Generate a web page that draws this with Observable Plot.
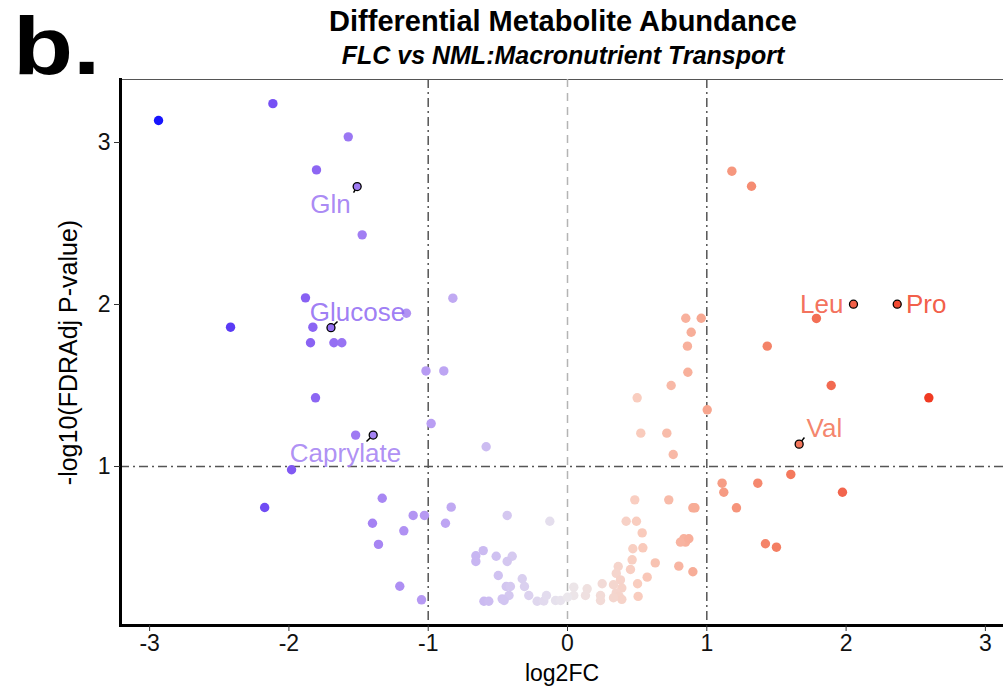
<!DOCTYPE html>
<html>
<head>
<meta charset="utf-8">
<script src="https://cdn.jsdelivr.net/npm/d3@7"></script>
<script src="https://cdn.jsdelivr.net/npm/@observablehq/plot@0.6"></script>
<style>
  body { margin: 0; background: #fff; }
  #wrap { position: relative; width: 1003px; height: 694px; font-family: "Liberation Sans", Arial, sans-serif; }
  #wrap svg { position: absolute; left: 0; top: 0; }
  .t { position: absolute; left: 0; width: 1126px; text-align: center; color: #000; white-space: nowrap; z-index: 2; }
  #title { top: 5px; font-weight: bold; font-size: 29px; line-height: 32px; }
  #subtitle { top: 40px; font-weight: bold; font-style: italic; font-size: 25px; line-height: 30px; }
  #panel { position: absolute; left: 13px; top: 5px; font-weight: bold; font-size: 82px; line-height: 82px;
           transform: scaleX(1.2); transform-origin: left top; z-index: 2; }
</style>
</head>
<body>
<div id="wrap">
  <div id="panel">b.</div>
  <div id="title" class="t">Differential Metabolite Abundance</div>
  <div id="subtitle" class="t">FLC vs NML:Macronutrient Transport</div>
</div>
<script>
// ---- data ----
const log2FC = [
  -2.936, -2.115, -1.574, -1.802, -1.474, -1.881, -1.156, -0.823, -2.419, -1.828,
  -1.845, -1.677, -1.620, -1.016, -0.888, -1.809, -0.979, -1.521, -0.584, -1.981,
  -2.174, -1.330, -1.108, -1.027, -0.835, -0.876, -1.400, -1.175, -1.357, -1.204,
  -1.048, -0.433, -0.127, -0.605, -0.658, -0.658, -0.512, -0.397, -0.433, -0.497,
  -0.325, -0.440, -0.410, -0.309, -0.278, -0.420, -0.469, -0.455, -0.600, -0.565,
  -0.218, -0.170, -0.151, -0.086, -0.050,
  0.045, 0.045, 0.000, 0.141, 0.129, 0.249, 0.237, 0.237, 0.364, 0.350,
  0.380, 0.330, 0.390, 0.350, 0.370, 0.390, 0.330, 0.503, 0.507, 0.572,
  0.630, 0.452, 0.464, 0.469, 0.541, 0.536, 0.421, 0.495, 0.483, 0.727,
  0.900, 0.915, 0.835, 0.847, 0.811, 0.871, 0.799, 0.900, 0.849, 0.960,
  0.888, 0.861, 0.864, 0.744, 0.500, 1.003, 0.526, 0.713, 0.759, 1.180,
  1.321, 1.787, 1.434, 1.893, 2.594, 1.603, 1.110, 1.122, 1.366, 1.974,
  1.213, 1.421, 1.500
];
const negLog10P = [
  3.136, 3.240, 3.035, 2.831, 2.430, 2.041, 1.946, 2.039, 1.860, 1.860,
  1.764, 1.764, 1.764, 1.590, 1.590, 1.424, 1.265, 1.194, 1.122, 0.980,
  0.747, 0.804, 0.698, 0.698, 0.749, 0.650, 0.650, 0.603, 0.519, 0.261,
  0.177, 0.698, 0.662, 0.481, 0.449, 0.414, 0.446, 0.446, 0.414, 0.327,
  0.307, 0.259, 0.259, 0.259, 0.204, 0.204, 0.183, 0.173, 0.168, 0.168,
  0.168, 0.170, 0.204, 0.173, 0.173,
  0.255, 0.204, 0.193, 0.245, 0.204, 0.276, 0.204, 0.173, 0.383, 0.340,
  0.300, 0.270, 0.250, 0.220, 0.200, 0.180, 0.190, 0.276, 0.198, 0.317,
  0.405, 0.364, 0.424, 0.492, 0.498, 0.590, 0.662, 0.662, 0.794, 0.794,
  0.745, 0.745, 0.554, 0.533, 0.533, 0.554, 0.385, 0.350, 1.915, 1.915,
  1.829, 1.743, 1.582, 1.500, 1.424, 1.350, 1.206, 1.206, 1.074, 2.823,
  2.730, 1.914, 1.743, 1.500, 1.424, 0.951, 0.897, 0.841, 0.897, 0.841,
  0.745, 0.523, 0.502
];

// labelled metabolites
const labelNames = ["Gln", "Glucose", "Caprylate", "Leu", "Pro", "Val"];
const labelFC    = [-1.510, -1.698, -1.395, 2.053, 2.367, 1.663];
const labelP     = [2.728, 1.857, 1.194, 2.002, 2.002, 1.138];
// text anchor positions (data units) and connector ends (data units)
const labelTextFC = [-1.701, -1.508, -1.594, 1.981, 2.430, 1.716];
const labelTextP  = [2.617, 1.951, 1.080, 2.000, 2.000, 1.235];
const labelAnchor = ["middle", "middle", "middle", "end", "start", "start"];
const segEndFC    = [-1.536, -1.651, -1.443, null, null, 1.701];
const segEndP     = [2.691, 1.895, 1.154, null, null, 1.179];

const xTicks = [-3, -2, -1, 0, 1, 2, 3];
const yTicks = [1, 2, 3];
const fcThresholds = [-1, 1];
const pThreshold = [1];
const zeroLine = [0];

const colorDomain = [-3, -2.4, -2, -1.5, -1, -0.5, 0, 0.5, 1, 1.5, 2, 2.6, 3];
const colorRange = ["#1010ff", "#5c3cf5", "#8058f3", "#a07cf3", "#b89cf3", "#d0c2f1", "#ebe7ec",
                    "#f9cdbf", "#f7a58e", "#f47e62", "#f2644c", "#f03a22", "#f02a15"];

// ---- tables ----
const points = log2FC.map((fc, i) => ({fc, p: negLog10P[i]}));
const labels = labelNames.map((name, i) => ({
  name, fc: labelFC[i], p: labelP[i], tx: labelTextFC[i], ty: labelTextP[i],
  anchor: labelAnchor[i], sx: segEndFC[i], sy: segEndP[i]
}));
const segs = labels.filter(d => d.sx != null);

const font = "'Liberation Sans', Arial, sans-serif";
const dotdash = "9,4,2,4";

const labelText = (anchor) => Plot.text(labels.filter(d => d.anchor === anchor), {
  x: "tx", y: "ty", text: "name", fill: "fc", fillOpacity: 0.9, textAnchor: anchor,
  fontSize: 26, fontFamily: font
});

const chart = Plot.plot({
  width: 1003,
  height: 694,
  marginTop: 79,
  marginLeft: 120,
  marginRight: 0,
  marginBottom: 69,
  style: {fontFamily: font, fontSize: "20px", background: "transparent", overflow: "visible"},
  x: {domain: [-3.209, 3.130]},
  y: {domain: [0.0185, 3.389]},
  color: {type: "linear", domain: colorDomain, range: colorRange, interpolate: "rgb"},
  marks: [
    Plot.frame({stroke: "#555", strokeWidth: 1}),
    Plot.ruleX(zeroLine, {stroke: "#b4b4b4", strokeWidth: 1.5, strokeDasharray: "8,6"}),
    Plot.ruleX(fcThresholds, {stroke: "#555", strokeWidth: 1.5, strokeDasharray: dotdash}),
    Plot.ruleY(pThreshold, {stroke: "#555", strokeWidth: 1.5, strokeDasharray: dotdash}),
    Plot.dot(points, {x: "fc", y: "p", r: 4.7, fill: "fc", stroke: null}),
    Plot.link(segs, {x1: "fc", y1: "p", x2: "sx", y2: "sy", stroke: "#000", strokeWidth: 1.5}),
    Plot.dot(labels, {x: "fc", y: "p", r: 4, fill: "fc", stroke: "#000", strokeWidth: 1.3}),
    labelText("middle"),
    labelText("start"),
    labelText("end"),
    Plot.frame({anchor: "left", stroke: "#000", strokeWidth: 3}),
    Plot.frame({anchor: "bottom", stroke: "#000", strokeWidth: 3}),
    Plot.axisX({ticks: xTicks, tickFormat: d => String(d), tickSize: 6, tickPadding: 3,
      fontSize: 23, label: null, stroke: "#333", fill: "#111"}),
    Plot.axisY({ticks: yTicks, tickFormat: d => String(d), tickSize: 6, tickPadding: 4,
      fontSize: 23, label: null, stroke: "#333", fill: "#111"}),
    Plot.text(["log2FC"], {frameAnchor: "bottom", lineAnchor: "middle", dy: 48, fontSize: 23, fill: "#000"}),
    Plot.text(["-log10(FDRAdj P-value)"], {frameAnchor: "left", textAnchor: "middle", lineAnchor: "middle",
      dx: -52, rotate: -90, fontSize: 25, fill: "#000"})
  ]
});
document.getElementById("wrap").appendChild(chart);
</script>
</body>
</html>
